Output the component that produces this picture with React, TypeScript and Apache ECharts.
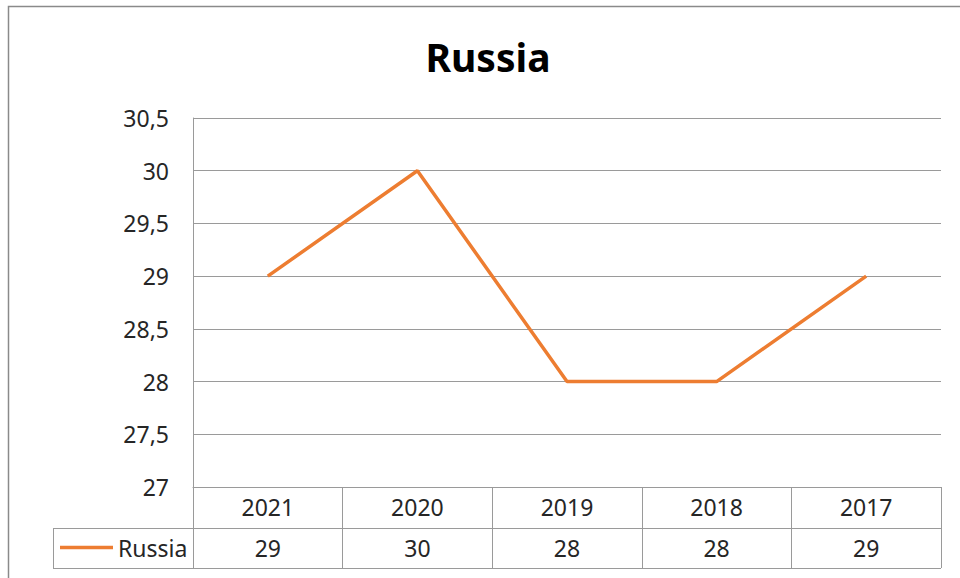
import React, { useEffect, useRef } from "react";
import * as echarts from "echarts";

const title = "Russia";
const seriesName = "Russia";
const years = ["2021", "2020", "2019", "2018", "2017"];
const values = [29, 30, 28, 28, 29];
const yMin = 27;
const yMax = 30.5;
const yStep = 0.5;

const FONT = "Noto Sans";
const GRID_COLOR = "#9a9a9a";
const TEXT_COLOR = "#262626";
const LINE_COLOR = "#ED7D31";

export default function App() {
  const ref = useRef<HTMLDivElement>(null);
  useEffect(() => {
    if (!ref.current) return;
    const chart = echarts.init(ref.current, undefined, { renderer: "svg" });
    const gl = 193, gr = 941, gb = 487, row1 = 528, row2 = 568, legendLeft = 53;
    chart.setOption({
      animation: false,
      backgroundColor: "#ffffff",
      title: {
        text: title,
        left: 483,
        textAlign: "center",
        top: 32,
        textStyle: { fontFamily: FONT, fontSize: 39, fontWeight: "bold", color: "#000" },
      },
      legend: {
        data: [{ name: seriesName, icon: "rect" }],
        left: 60,
        top: 536,
        padding: 0,
        itemWidth: 53,
        itemHeight: 3.5,
        textStyle: { fontFamily: FONT, fontSize: 23, color: TEXT_COLOR },
      },
      grid: { left: gl, right: 960 - gr, top: 118, bottom: 578 - gb, containLabel: false },
      xAxis: [
        {
          type: "category",
          data: years,
          boundaryGap: true,
          position: "bottom",
          axisLine: { show: true, lineStyle: { color: GRID_COLOR, width: 1 } },
          axisTick: {
            show: true,
            alignWithLabel: false,
            interval: 0,
            length: row2 - gb,
            lineStyle: { color: GRID_COLOR, width: 1 },
          },
          axisLabel: { margin: 8, fontFamily: FONT, fontSize: 23, color: TEXT_COLOR, interval: 0 },
        },
        {
          type: "category",
          data: years,
          boundaryGap: true,
          position: "bottom",
          offset: row1 - gb,
          axisLine: { show: false },
          axisTick: { show: false },
          axisLabel: {
            margin: 8,
            fontFamily: FONT,
            fontSize: 23,
            color: TEXT_COLOR,
            interval: 0,
            formatter: (_v: string, i: number) => String(values[i]),
          },
        },
      ],
      yAxis: {
        type: "value",
        min: yMin,
        max: yMax,
        interval: yStep,
        axisLine: { show: true, lineStyle: { color: GRID_COLOR, width: 1 } },
        axisTick: { show: false },
        splitLine: { show: true, lineStyle: { color: GRID_COLOR, width: 1 } },
        axisLabel: {
          margin: 24,
          fontFamily: FONT,
          fontSize: 23,
          color: TEXT_COLOR,
          formatter: (v: number) => String(v).replace(".", ","),
        },
      },
      series: [
        {
          name: seriesName,
          type: "line",
          xAxisIndex: 0,
          data: values,
          symbol: "none",
          lineStyle: { color: LINE_COLOR, width: 3.5 },
          itemStyle: { color: LINE_COLOR },
        },
      ],
      graphic: [
        {
          type: "rect",
          shape: { x: 8.5, y: 6.5, width: 980, height: 620 },
          style: { fill: "none", stroke: "#8a8a8a", lineWidth: 1.5 },
          silent: true,
        },
        {
          type: "line",
          shape: { x1: legendLeft, y1: row1 + 0.5, x2: gr, y2: row1 + 0.5 },
          style: { stroke: GRID_COLOR, lineWidth: 1 },
          silent: true,
        },
        {
          type: "line",
          shape: { x1: legendLeft, y1: row2 + 0.5, x2: gr, y2: row2 + 0.5 },
          style: { stroke: GRID_COLOR, lineWidth: 1 },
          silent: true,
        },
        {
          type: "line",
          shape: { x1: legendLeft + 0.5, y1: row1, x2: legendLeft + 0.5, y2: row2 },
          style: { stroke: GRID_COLOR, lineWidth: 1 },
          silent: true,
        },
      ],
    });
    return () => chart.dispose();
  }, []);
  return (
    <div
      ref={ref}
      style={{ position: "absolute", left: 0, top: 0, width: 960, height: 578 }}
    />
  );
}
